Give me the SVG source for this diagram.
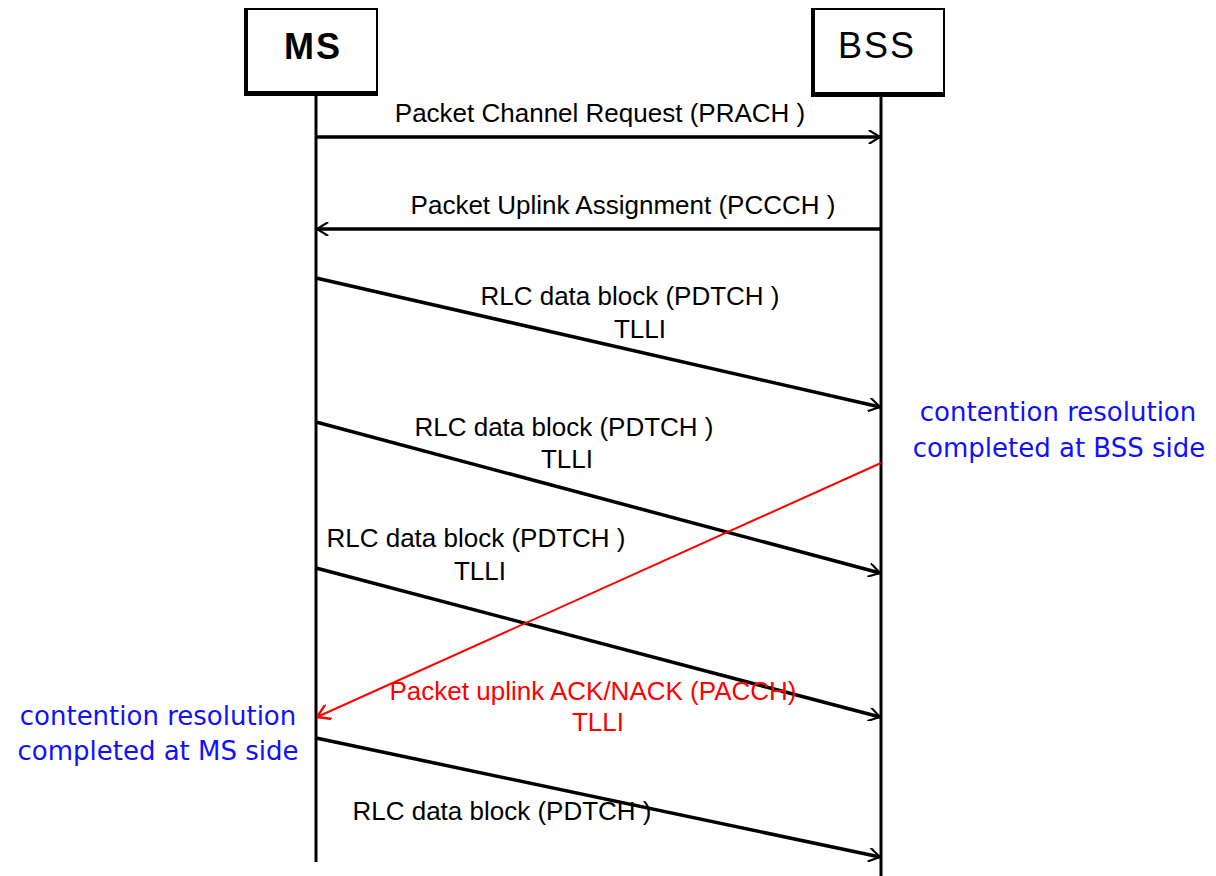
<svg xmlns="http://www.w3.org/2000/svg" width="1216" height="876" viewBox="0 0 1216 876">
<style>
.lbl{font-family:"Liberation Sans",Arial,sans-serif;font-size:26px;fill:#000}
.red{fill:#ff0000}
.blue{font-family:"DejaVu Sans","Liberation Sans",sans-serif;font-size:26px;fill:#1010ff}
.life{stroke:#000;stroke-width:3;fill:none}
.msg{stroke:#000;stroke-width:3.5;fill:none;marker-end:url(#ah)}
.rmsg{stroke:#ff0000;stroke-width:2;fill:none;marker-end:url(#rah)}
.box{fill:#fff;stroke:#000;stroke-width:2}
.shadow{stroke:#000;stroke-width:4;fill:none}
.head{font-family:"Liberation Sans",Arial,sans-serif;font-size:36px;fill:#000;text-anchor:middle;letter-spacing:2px}
</style>
<defs>
<marker id="ah" viewBox="0 0 10 10" refX="10" refY="5" markerWidth="4" markerHeight="4" orient="auto" markerUnits="strokeWidth">
<path d="M2,0 L10,5 L2,10" fill="none" stroke="#000" stroke-width="1.5"/>
</marker>
<marker id="rah" viewBox="0 0 10 10" refX="10" refY="5" markerWidth="8" markerHeight="8" orient="auto" markerUnits="strokeWidth">
<path d="M2,0 L10,5 L2,10" fill="none" stroke="#ff0000" stroke-width="1.5"/>
</marker>
</defs>
<g id="ms">
<rect class="box" x="246" y="9" width="131" height="83"/>
<path class="shadow" d="M246,8 V94 H378"/>
<text class="head" x="313" y="59" font-weight="bold">MS</text>
<line class="life" x1="316" y1="93" x2="316" y2="862"/>
</g>
<g id="bss">
<rect class="box" x="813" y="9" width="131" height="84"/>
<path class="shadow" d="M813,8 V95 H945"/>
<text class="head" x="877" y="58">BSS</text>
<line class="life" x1="881" y1="95" x2="881" y2="876"/>
</g>
<g id="connectors">
<line class="msg" x1="316" y1="137" x2="880" y2="137"/>
<line class="msg" x1="881" y1="229" x2="317" y2="229"/>
<line class="msg" x1="316" y1="278" x2="880" y2="407"/>
<line class="msg" x1="316" y1="422" x2="880" y2="573"/>
<line class="msg" x1="316" y1="568" x2="880" y2="717"/>
<line class="msg" x1="316" y1="738" x2="880" y2="857"/>
<line class="rmsg" x1="881" y1="463" x2="317" y2="717"/>
</g>
<g id="labels">
<text class="lbl" x="600" y="122" text-anchor="middle">Packet Channel Request (PRACH )</text>
<text class="lbl" x="623" y="214" text-anchor="middle">Packet Uplink Assignment (PCCCH )</text>
<text class="lbl" x="630" y="305" text-anchor="middle">RLC data block (PDTCH )</text>
<text class="lbl" x="640" y="338" text-anchor="middle">TLLI</text>
<text class="lbl" x="564" y="436" text-anchor="middle">RLC data block (PDTCH )</text>
<text class="lbl" x="567" y="468" text-anchor="middle">TLLI</text>
<text class="lbl" x="476" y="547" text-anchor="middle">RLC data block (PDTCH )</text>
<text class="lbl" x="480" y="580" text-anchor="middle">TLLI</text>
<text class="lbl red" x="593" y="700" text-anchor="middle">Packet uplink ACK/NACK (PACCH)</text>
<text class="lbl red" x="598" y="731" text-anchor="middle">TLLI</text>
<text class="lbl" x="502" y="820" text-anchor="middle">RLC data block (PDTCH )</text>
<text class="blue" x="1058" y="421" text-anchor="middle">contention resolution</text>
<text class="blue" x="1059" y="457" text-anchor="middle">completed at BSS side</text>
<text class="blue" x="158" y="725" text-anchor="middle">contention resolution</text>
<text class="blue" x="158" y="760" text-anchor="middle">completed at MS side</text>
</g>
</svg>
